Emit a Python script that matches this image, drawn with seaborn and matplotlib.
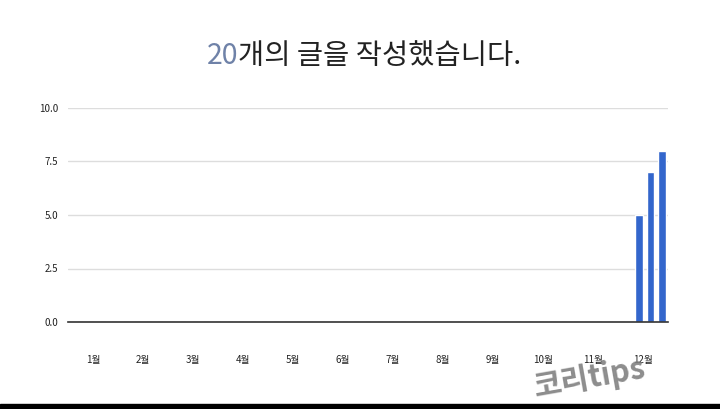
import matplotlib
matplotlib.use("Agg")
import matplotlib.pyplot as plt
import seaborn as sns

# Weekly post counts for the year (52 weeks), only the last 3 weeks have posts
weeks = list(range(1, 53))
counts = [0] * 49 + [5, 7, 8]
month_labels = ["1월", "2월", "3월", "4월", "5월", "6월",
                "7월", "8월", "9월", "10월", "11월", "12월"]
total_posts = "20"
title_rest = "개의 글을 작성했습니다."

sns.set_theme(style="white")
plt.rcParams["font.family"] = ["Noto Sans CJK KR", "DejaVu Sans"]

fig = plt.figure(figsize=(7.2, 4.09), dpi=100)
ax = fig.add_axes([68 / 720, 87 / 409, 600 / 720, 214 / 409])

sns.barplot(x=[w - 1 for w in weeks], y=counts, color="#3366cc",
            saturation=1, width=0.65, ax=ax, native_scale=True)

ax.set_xlim(-0.5, len(weeks) - 0.5)
ax.set_ylim(0, 10)
ax.set_yticks([0, 2.5, 5, 7.5, 10])
ax.set_yticklabels(["0.0", "2.5", "5.0", "7.5", "10.0"])
# month labels in the middle of each month
month_pos = [(m + 0.5) * len(weeks) / 12 - 0.5 for m in range(12)]
ax.set_xticks(month_pos)
ax.set_xticklabels(month_labels)
ax.tick_params(axis="both", length=0, labelsize=7, colors="#222222")
ax.tick_params(axis="x", pad=24)
ax.tick_params(axis="y", pad=7)
ax.set_xlabel("")
ax.set_ylabel("")

ax.grid(axis="y", color="#dddddd", linewidth=1)
ax.set_axisbelow(True)
for s in ["top", "right", "left"]:
    ax.spines[s].set_visible(False)
ax.spines["bottom"].set_color("#333333")
ax.spines["bottom"].set_linewidth(1.2)

# two-colour title
t1 = fig.text(207 / 720, (409 - 64) / 409, total_posts, fontsize=20.5,
              color="#6f82a8", ha="left", va="baseline", fontweight="light")
ax.annotate(title_rest, xy=(1, 0), xycoords=t1, fontsize=20.5,
            color="#222222", ha="left", va="bottom", annotation_clip=False,
            fontweight="light")

# watermark
fig.text(590 / 720, (409 - 378) / 409, "코리tips", fontsize=22,
         color="#808080", fontweight="bold", rotation=10,
         ha="center", va="center", alpha=0.9)

# dark strip at the bottom of the screenshot
fig.patches.append(plt.Rectangle((0, 0), 1, 5 / 409, transform=fig.transFigure,
                                 color="black", zorder=10))

fig.savefig("out.png", dpi=100, facecolor="white")
